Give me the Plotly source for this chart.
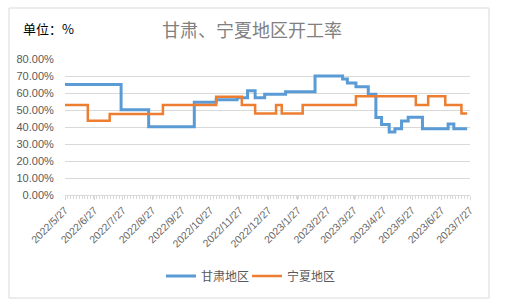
import plotly.graph_objects as go

# ---- data ----
tick_labels = ["2022/5/27", "2022/6/27", "2022/7/27", "2022/8/27", "2022/9/27",
               "2022/10/27", "2022/11/27", "2022/12/27", "2023/1/27", "2023/2/27",
               "2023/3/27", "2023/4/27", "2023/5/27", "2023/6/27", "2023/7/27"]

gansu_dates = ["2022-05-27", "2022-07-25", "2022-08-23", "2022-10-10", "2022-11-02",
               "2022-11-24", "2022-12-05", "2022-12-13", "2022-12-23", "2023-01-14",
               "2023-02-14", "2023-03-15", "2023-03-20", "2023-03-29", "2023-04-11",
               "2023-04-19", "2023-04-25", "2023-05-03", "2023-05-09", "2023-05-16",
               "2023-05-23", "2023-06-07", "2023-07-04", "2023-07-10", "2023-07-24"]
gansu_values = [65.0, 50.2, 40.2, 54.5, 56.0,
                57.2, 61.3, 57.2, 59.2, 60.8,
                70.0, 68.2, 65.9, 63.7, 59.2,
                45.6, 41.5, 37.1, 39.0, 43.5,
                45.7, 38.9, 41.7, 39.0, 39.0]

ningxia_dates = ["2022-05-27", "2022-06-20", "2022-07-13", "2022-09-07", "2022-11-02",
                 "2022-11-29", "2022-12-13", "2023-01-04", "2023-01-10", "2023-02-01",
                 "2023-03-29", "2023-05-31", "2023-06-13", "2023-07-01", "2023-07-18",
                 "2023-07-24"]
ningxia_values = [52.9, 43.7, 47.6, 52.9, 57.8,
                  52.9, 48.0, 52.9, 48.0, 52.9,
                  58.1, 52.9, 58.1, 52.9, 48.0,
                  48.0]

series_names = ["甘肃地区", "宁夏地区"]
title_text = "甘肃、宁夏地区开工率"
unit_text = "单位：%"

# ---- helpers ----
def label_to_iso(lbl):
    y, m, d = lbl.split("/")
    return f"{int(y):04d}-{int(m):02d}-{int(d):02d}"

tick_vals = [label_to_iso(t) for t in tick_labels]

W, H = 514, 306
L, R, T, B = 65, 44, 59, 111
pw, ph = W - L - R, H - T - B

def px_x(x):
    return (x - L) / pw

def px_y(y):
    return (H - B - y) / ph

fig = go.Figure()
fig.add_trace(go.Scatter(
    x=gansu_dates, y=[v / 100 for v in gansu_values], name=series_names[0],
    mode="lines", line=dict(color="#5B9BD5", width=3, shape="hv"), legend="legend"))
fig.add_trace(go.Scatter(
    x=ningxia_dates, y=[v / 100 for v in ningxia_values], name=series_names[1],
    mode="lines", line=dict(color="#ED7D31", width=2.5, shape="hv"), legend="legend2"))

axis_font = dict(family="Liberation Sans, Arial, sans-serif", size=11, color="#595959")
xaxis_font = dict(family="Liberation Sans, Arial, sans-serif", size=10.5, color="#666666")
legend_font = dict(family="Noto Sans CJK SC", size=12, color="#595959")

fig.update_layout(
    width=W, height=H,
    margin=dict(l=L, r=R, t=T, b=B),
    paper_bgcolor="white", plot_bgcolor="white",
    showlegend=True,
    legend=dict(orientation="h", x=px_x(161), xanchor="left", y=px_y(276), yanchor="middle",
                font=legend_font, itemwidth=30, bgcolor="rgba(0,0,0,0)"),
    legend2=dict(orientation="h", x=px_x(247), xanchor="left", y=px_y(276), yanchor="middle",
                 font=legend_font, itemwidth=30, bgcolor="rgba(0,0,0,0)"),
    xaxis=dict(
        type="date", range=[tick_vals[0], tick_vals[-1]],
        tickmode="array", tickvals=tick_vals, ticktext=tick_labels,
        tickangle=-45, tickfont=xaxis_font,
        showgrid=False, zeroline=False,
        showline=True, linecolor="#d9d9d9", linewidth=1,
        ticks="outside", ticklen=4, tickcolor="#d9d9d9",
        minor=dict(ticks="outside", ticklen=3, tickcolor="#d9d9d9",
                   dtick=3 * 86400000, tick0=tick_vals[0], showgrid=False),
        fixedrange=True,
    ),
    yaxis=dict(
        range=[0, 0.8], tickmode="linear", tick0=0, dtick=0.1,
        tickformat=".2%", tickfont=axis_font,
        showgrid=True, gridcolor="#d9d9d9", gridwidth=1,
        zeroline=False, showline=False,
        ticks="outside", ticklen=8, tickcolor="rgba(0,0,0,0)",
        fixedrange=True,
    ),
)

# title and unit text
fig.add_annotation(text=title_text, xref="paper", yref="paper",
                   x=px_x(252), y=px_y(29), xanchor="center", yanchor="middle",
                   showarrow=False,
                   font=dict(family="Noto Sans CJK SC", size=18, color="#808080"))
fig.add_annotation(text=unit_text, xref="paper", yref="paper",
                   x=px_x(21), y=px_y(29), xanchor="left", yanchor="middle",
                   showarrow=False,
                   font=dict(family="Noto Sans CJK SC", size=13, color="#000000"))

# chart border
fig.add_shape(type="rect", xref="paper", yref="paper",
              x0=px_x(9), x1=px_x(489), y0=px_y(298), y1=px_y(8),
              line=dict(color="#d9d9d9", width=1), fillcolor="rgba(0,0,0,0)", layer="below")

fig.write_html("out.html")
